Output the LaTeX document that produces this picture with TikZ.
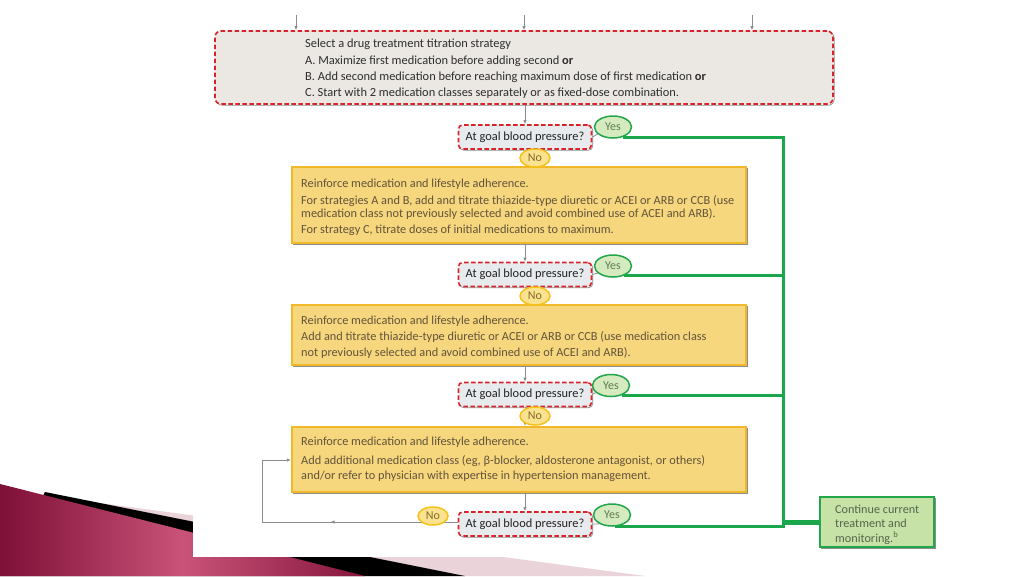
\documentclass[tikz,border=0pt]{standalone}
\usepackage{fontspec}
\setmainfont{Carlito}
\usetikzlibrary{arrows.meta,shapes.geometric,decorations.markings,calc}
\definecolor{redD}{HTML}{D8232A}
\definecolor{topF}{HTML}{EBE8E3}
\definecolor{decF}{HTML}{E8EBEE}
\definecolor{yelF}{HTML}{F6D77E}
\definecolor{yelB}{HTML}{F0B929}
\definecolor{yesF}{HTML}{D5EBBF}
\definecolor{greenB}{HTML}{22A54B}
\definecolor{noF}{HTML}{FBE28E}
\definecolor{noB}{HTML}{F4C21A}
\definecolor{contF}{HTML}{C6E2A6}
\definecolor{greenL}{HTML}{1AA64A}
\definecolor{topT}{HTML}{2E2E2E}
\definecolor{yelT}{HTML}{62533A}
\definecolor{decT}{HTML}{222222}
\definecolor{contT}{HTML}{56654D}
\definecolor{yesT}{HTML}{5E7A52}
\definecolor{noT}{HTML}{85692A}
\definecolor{grayL}{HTML}{8C8C8C}
\definecolor{maroonD}{HTML}{7E0F36}
\definecolor{maroonL}{HTML}{C95379}
\definecolor{pinkL}{HTML}{EBD3DA}
\begin{document}
\begin{tikzpicture}[x=1pt,y=-1pt,
  shadowed/.style={preaction={draw=grayL, line width=0.7pt, solid, transform canvas={shift={(1.2pt,-1.2pt)}}}},
  topbox/.style={draw=redD, fill=topF, line width=1.6pt, dash pattern=on 4.5pt off 2.5pt, rounded corners=6pt, minimum width=618pt, minimum height=73pt, inner sep=0pt, shadowed},
  decbox/.style={draw=redD, fill=decF, line width=1.6pt, dash pattern=on 4.5pt off 2.5pt, rounded corners=4pt, minimum width=133pt, minimum height=24pt, inner sep=0pt, text=decT, font=\fontsize{12.4}{13}\selectfont, shadowed},
  yelbox/.style={draw=yelB, fill=yelF, line width=2.2pt, minimum width=454pt, inner sep=0pt, shadowed},
  contbox/.style={draw=greenB, fill=contF, line width=1.6pt, minimum width=114pt, minimum height=50pt, inner sep=0pt, shadowed},
  yesnode/.style={ellipse, draw=greenB, fill=yesF, line width=1.5pt, minimum width=37pt, minimum height=22pt, inner sep=0pt, text=yesT, font=\fontsize{12}{12}\selectfont},
  nonode/.style={ellipse, draw=noB, fill=noF, line width=1.5pt, minimum width=30pt, minimum height=18pt, inner sep=0pt, text=noT, font=\fontsize{12}{12}\selectfont},
  toptxt/.style={anchor=base west, inner sep=0pt, text=topT, font=\fontsize{12.4}{13}\selectfont},
  yeltxt/.style={anchor=base west, inner sep=0pt, text=yelT, font=\fontsize{12.3}{13}\selectfont},
  conttxt/.style={anchor=base west, inner sep=0pt, text=contT, font=\fontsize{12.2}{13}\selectfont},
  gline/.style={draw=grayL, line width=0.8pt},
  garrow/.style={gline, -{Latex[length=4pt,width=3.5pt]}},
  midarrow/.style={postaction={decorate, decoration={markings, mark=at position 0.65 with {\arrow{Latex[length=4pt,width=3.5pt]}}}}},
  greenline/.style={draw=greenL, line width=3pt}
]
\useasboundingbox (0,0) rectangle (1024,576);
\fill[white] (0,0) rectangle (1024,576);
% slide decoration
\fill[pinkL] (70,499) -- (645,576) -- (0,576) -- cycle;
\fill[black] (45,492) -- (465,576) -- (0,576) -- cycle;
\shade[left color=maroonD, right color=maroonD!90!maroonL, middle color=maroonL] (0,484) -- (365,576) -- (0,576) -- cycle;
\fill[white] (193,0) rectangle (1024,557);

% top arrows
\coordinate (ta1) at (296,15); \coordinate (ta2) at (524,15); \coordinate (ta3) at (752,15);

% top box
\node[topbox] (sel) at (524,67.5) {};
\draw[garrow] (ta1) -- (ta1 |- sel.north);
\draw[garrow] (ta2) -- (ta2 |- sel.north);
\draw[garrow] (ta3) -- (ta3 |- sel.north);
\node[toptxt] (s1) at (305,47) {Select a drug treatment titration strategy};
\node[toptxt] (s2) at (305,64) {A. Maximize first medication before adding second \textbf{or}};
\node[toptxt] (s3) at (305,80) {B. Add second medication before reaching maximum dose of first medication \textbf{or}};
\node[toptxt] (s4) at (305,96) {C. Start with 2 medication classes separately or as fixed-dose combination.};

% decisions
\node[decbox] (d1) at (525,137) {At goal blood pressure?};
\node[decbox] (d2) at (525,274.5) {At goal blood pressure?};
\node[decbox] (d3) at (525,394.5) {At goal blood pressure?};
\node[decbox] (d4) at (525,524) {At goal blood pressure?};

% yellow boxes
\node[yelbox, minimum height=76pt] (b1) at (519,205) {};
\node[yelbox, minimum height=60pt] (b2) at (519,335) {};
\node[yelbox, minimum height=65pt] (b3) at (519,459.5) {};

% continue box
\node[contbox] (cont) at (877,522) {};

% gray vertical connectors
\draw[garrow] (sel.south -| d1.north) -- (d1.north);
\draw[garrow] (d1.south) -- (d1.south |- b1.north);
\draw[garrow] (b1.south -| d2.north) -- (d2.north);
\draw[garrow] (d2.south) -- (d2.south |- b2.north);
\draw[garrow] (b2.south -| d3.north) -- (d3.north);
\draw[garrow] (d3.south) -- (d3.south |- b3.north);
\draw[garrow] (b3.south -| d4.north) -- (d4.north);

% loop back
\coordinate (lb) at (262,522);
\coordinate (lt) at (262,460);
\draw[gline, midarrow] (d4.west |- lb) -- (lb);
\draw[gline] (lb) -- (lt);
\draw[garrow] (lt) -- (b3.west |- lt);

% yes / no nodes
\node[yesnode] (y1) at (613,127) {Yes};
\node[yesnode] (y2) at (613,266) {Yes};
\node[yesnode] (y3) at (611,385.5) {Yes};
\node[yesnode] (y4) at (612,515) {Yes};
\node[nonode] (n1) at (535,158) {No};
\node[nonode] (n2) at (535,296) {No};
\node[nonode] (n3) at (535,416) {No};
\node[nonode] (n4) at (433,516) {No};

\draw[gline] (d1.east) -- (y1.205);
\draw[gline] (d2.east) -- (y2.205);
\draw[gline] (d3.east) -- (y3.205);
\draw[gline] (d4.east) -- (y4.215);

% green lines
\coordinate (bus) at (783,0);
\draw[greenline] (y1.-45) -- (y1.-45 -| bus);
\draw[greenline] (y2.-40) -- (y2.-40 -| bus);
\draw[greenline] (y3.-40) -- (y3.-40 -| bus);
\draw[greenline] (y4.-75) -- (y4.-75 -| bus);
\draw[greenline, line cap=rect] (y1.-45 -| bus) -- (y4.-75 -| bus);
\draw[draw=greenL, line width=5pt] (bus |- cont.west) -- (cont.west);

% texts
\node[yeltxt] (t11) at (301,187) {Reinforce medication and lifestyle adherence.};
\node[yeltxt] (t12) at (301,204) {For strategies A and B, add and titrate thiazide-type diuretic or ACEI or ARB or CCB (use};
\node[yeltxt] (t13) at (301,217) {medication class not previously selected and avoid combined use of ACEI and ARB).};
\node[yeltxt] (t14) at (301,233) {For strategy C, titrate doses of initial medications to maximum.};

\node[yeltxt] (t21) at (301,324) {Reinforce medication and lifestyle adherence.};
\node[yeltxt] (t22) at (301,340) {Add and titrate thiazide-type diuretic or ACEI or ARB or CCB (use medication class};
\node[yeltxt] (t23) at (301,356) {not previously selected and avoid combined use of ACEI and ARB).};

\node[yeltxt] (t31) at (301,445) {Reinforce medication and lifestyle adherence.};
\node[yeltxt] (t32) at (301,464) {Add additional medication class (eg, β-blocker, aldosterone antagonist, or others)};
\node[yeltxt] (t33) at (301,479) {and/or refer to physician with expertise in hypertension management.};

\node[conttxt] (c1) at (835,513) {Continue current};
\node[conttxt] (c2) at (835,527) {treatment and};
\node[conttxt] (c3) at (835,542) {monitoring.\textsuperscript{b}};
\end{tikzpicture}
\end{document}
